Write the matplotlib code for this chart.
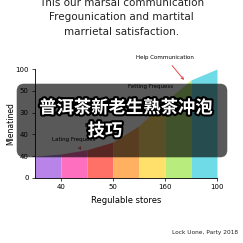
import numpy as np
import matplotlib.pyplot as plt
from matplotlib.patches import FancyBboxPatch
import matplotlib.patheffects as pe

# band colours and the curve height at each band edge
band_colors = ['#b884e8', '#ff6fbf', '#ff7066', '#ffb060', '#ffe06a', '#b8ec7c', '#6fdbe6']
curve = [20, 22, 26, 33, 48, 70, 90, 100]
edges = np.arange(len(curve))

ytick_pos = [0, 20, 40, 60, 80, 100]
ytick_lab = ['0', '40', '40', '30', '50', '100']
xtick_pos = [1, 3, 5, 7]
xtick_lab = ['40', '50', '160', '100']

W = 243.0
def fx(x): return x / W
def fy(y): return 1 - y / W

fig = plt.figure(figsize=(2.43, 2.43), dpi=100)
fig.patch.set_facecolor('white')

ax = fig.add_axes([fx(35), fy(178), 182 / W, 109 / W])
for i, c in enumerate(band_colors):
    ax.fill_between(edges[i:i + 2], 0, curve[i:i + 2], color=c, lw=0)
ax.set_xlim(0, 7)
ax.set_ylim(0, 100)
ax.spines['top'].set_visible(False)
ax.spines['right'].set_visible(False)
ax.spines['left'].set_linewidth(0.6)
ax.spines['bottom'].set_linewidth(0.6)
ax.set_yticks(ytick_pos)
ax.set_yticklabels(ytick_lab)
ax.set_xticks(xtick_pos)
ax.set_xticklabels(xtick_lab)
ax.tick_params(labelsize=5, length=2.5, width=0.5, pad=2)
ax.set_xlabel('Regulable stores', fontsize=6, labelpad=4)
ax.set_ylabel('Mlenatined', fontsize=5.5, labelpad=0)

# annotations
ax.annotate('Help Communication', xy=(5.73, 90), xytext=(5.0, 111),
            fontsize=4, ha='center', va='center', annotation_clip=False,
            arrowprops=dict(arrowstyle='->', color='#e03030', lw=0.6,
                            shrinkA=3, shrinkB=0))
ax.text(4.46, 83.5, 'Fetting Frequess', fontsize=4, ha='center', va='center')
ax.text(2.5, 48.6, 'Mave Dess', fontsize=4, ha='center', va='center')
ax.annotate('Lating Frequess', xy=(1.77, 26), xytext=(1.5, 35),
            fontsize=4, ha='center', va='center',
            arrowprops=dict(arrowstyle='->', color='#e03030', lw=0.6,
                            shrinkA=3, shrinkB=0))

# title and source
fig.text(0.5, fy(3), 'This our marsal communication', fontsize=7.5,
         ha='center', va='center', color='#222222')
fig.text(0.5, fy(17), 'Fregounication and martital', fontsize=7.5,
         ha='center', va='center', color='#222222')
fig.text(0.5, fy(32), 'marrietal satisfaction.', fontsize=7.5,
         ha='center', va='center', color='#222222')
fig.text(fx(238), fy(232), 'Lock Uone, Party 2018', fontsize=4.2,
         ha='right', va='center', color='#222222')

# dark caption overlay
box = FancyBboxPatch((fx(24), fy(150)), fx(196), 59 / W,
                     boxstyle='round,pad=0.03', transform=fig.transFigure,
                     facecolor='black', alpha=0.65, lw=0, zorder=10)
fig.patches.append(box)
stroke = [pe.withStroke(linewidth=3, foreground='black')]
fig.text(fx(126), fy(108), '普洱茶新老生熟茶冲泡', fontsize=12.5, fontweight='bold',
         family=['Noto Sans CJK SC', 'DejaVu Sans'], color='white',
         ha='center', va='center', zorder=11, path_effects=stroke)
fig.text(fx(105), fy(131), '技巧', fontsize=12.5, fontweight='bold',
         family=['Noto Sans CJK SC', 'DejaVu Sans'], color='white',
         ha='center', va='center', zorder=11, path_effects=stroke)

fig.savefig('out.png', dpi=100)
